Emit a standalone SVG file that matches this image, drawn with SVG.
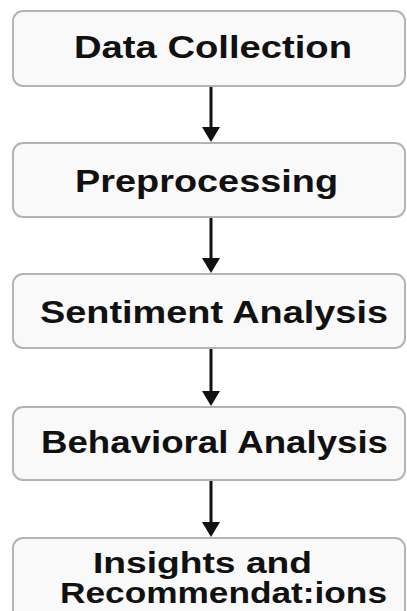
<svg xmlns="http://www.w3.org/2000/svg" width="407" height="611" viewBox="0 0 407 611">
<style>
.box{fill:#f9f9f9;stroke:#b4b4b4;stroke-width:2}
.t{font-family:"Liberation Sans",Arial,sans-serif;font-weight:bold;font-size:32px;fill:#111}
.s{font-size:30px}
.c{stroke:#111;stroke-width:3;fill:none}
.h{fill:#111}
</style>
<rect width="407" height="611" fill="#fff"/>
<g id="connectors">
<line class="c" x1="211" y1="87" x2="211" y2="127"/><path class="h" d="M202,127 L220,127 L211,142 Z"/>
<line class="c" x1="211" y1="218" x2="211" y2="258"/><path class="h" d="M202,258 L220,258 L211,273 Z"/>
<line class="c" x1="211" y1="349" x2="211" y2="391"/><path class="h" d="M202,391 L220,391 L211,406 Z"/>
<line class="c" x1="211" y1="481" x2="211" y2="522"/><path class="h" d="M202,522 L220,522 L211,537 Z"/>
</g>
<g id="n1"><rect class="box" x="13" y="11" width="392" height="75" rx="10"/>
<text class="t" x="74" y="58" textLength="278" lengthAdjust="spacingAndGlyphs">Data Collection</text></g>
<g id="n2"><rect class="box" x="13" y="143" width="392" height="74" rx="10"/>
<text class="t" x="75" y="192" textLength="263" lengthAdjust="spacingAndGlyphs">Preprocessing</text></g>
<g id="n3"><rect class="box" x="13" y="274" width="392" height="74" rx="10"/>
<text class="t" x="40" y="323" textLength="348" lengthAdjust="spacingAndGlyphs">Sentiment Analysis</text></g>
<g id="n4"><rect class="box" x="13" y="407" width="392" height="73" rx="10"/>
<text class="t" x="41" y="453" textLength="347" lengthAdjust="spacingAndGlyphs">Behavioral Analysis</text></g>
<g id="n5"><rect class="box" x="13" y="538" width="392" height="84" rx="10"/>
<text class="t s" x="93" y="573" textLength="219" lengthAdjust="spacingAndGlyphs">Insights and</text>
<text class="t s" x="60" y="603" textLength="327" lengthAdjust="spacingAndGlyphs">Recommendat:ions</text></g>
</svg>
